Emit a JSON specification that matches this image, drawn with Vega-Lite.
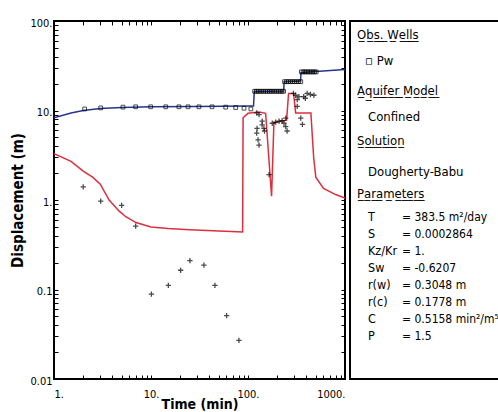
{
  "$schema": "https://vega.github.io/schema/vega-lite/v6.json",
  "background": "white",
  "padding": {"left": 9, "top": 16, "right": 0, "bottom": 0},
  "config": {
    "view": {"stroke": "black", "strokeWidth": 2},
    "font": "DejaVu Sans Condensed, Liberation Sans",
    "concat": {"spacing": 2},
    "axis": {"labelColor": "black", "titleColor": "black", "tickColor": "black", "grid": false, "domain": false, "labelFont": "DejaVu Sans Condensed, Liberation Sans", "titleFont": "DejaVu Sans Condensed, Liberation Sans"}
  },
  "datasets": {
    "model": [
      {"t": 1, "d": 8.3}, {"t": 1.5, "d": 9.4}, {"t": 2, "d": 10.0}, {"t": 3, "d": 10.5}, {"t": 5, "d": 10.8},
      {"t": 10, "d": 11.0}, {"t": 30, "d": 11.1}, {"t": 100, "d": 11.2}, {"t": 114, "d": 11.2}, {"t": 116, "d": 16.3},
      {"t": 233, "d": 16.5}, {"t": 236, "d": 21.0}, {"t": 348, "d": 21.3}, {"t": 352, "d": 26.5}, {"t": 500, "d": 27.2}, {"t": 1000, "d": 28.8}
    ],
    "deriv": [
      {"t": 1, "d": 3.3}, {"t": 1.5, "d": 2.7}, {"t": 2, "d": 2.1}, {"t": 2.5, "d": 1.8}, {"t": 3, "d": 1.5}, {"t": 3.7, "d": 1.0},
      {"t": 4.7, "d": 0.75}, {"t": 5.5, "d": 0.65}, {"t": 7, "d": 0.56}, {"t": 10, "d": 0.5}, {"t": 15, "d": 0.48}, {"t": 25, "d": 0.465},
      {"t": 50, "d": 0.45}, {"t": 88, "d": 0.44}, {"t": 89, "d": 8.3}, {"t": 100, "d": 9.3}, {"t": 130, "d": 9.6}, {"t": 152, "d": 9.3},
      {"t": 175, "d": 1.1}, {"t": 185, "d": 7.3}, {"t": 250, "d": 7.8}, {"t": 262, "d": 15.5}, {"t": 295, "d": 15.5}, {"t": 310, "d": 9.4},
      {"t": 445, "d": 9.4}, {"t": 475, "d": 3.0}, {"t": 500, "d": 1.8}, {"t": 600, "d": 1.35}, {"t": 800, "d": 1.15}, {"t": 1000, "d": 1.05}
    ],
    "obs": [
      {"t": 2.07, "d": 10.4}, {"t": 3.03, "d": 10.7}, {"t": 5.14, "d": 10.9}, {"t": 6.95, "d": 11}, {"t": 9.93, "d": 11}, {"t": 14.2, "d": 11},
      {"t": 19.4, "d": 11}, {"t": 24.1, "d": 11}, {"t": 31.2, "d": 11}, {"t": 42.6, "d": 11}, {"t": 58.9, "d": 10.9}, {"t": 74.7, "d": 10.8},
      {"t": 91, "d": 10.6}, {"t": 107, "d": 10.4},
      {"t": 117, "d": 16.4}, {"t": 122, "d": 16.4}, {"t": 127, "d": 16.4}, {"t": 133, "d": 16.4}, {"t": 139, "d": 16.4}, {"t": 145, "d": 16.4},
      {"t": 152, "d": 16.4}, {"t": 159, "d": 16.4}, {"t": 166, "d": 16.4}, {"t": 173, "d": 16.4}, {"t": 181, "d": 16.4}, {"t": 189, "d": 16.4},
      {"t": 197, "d": 16.4}, {"t": 206, "d": 16.4}, {"t": 215, "d": 16.4}, {"t": 224, "d": 16.4}, {"t": 233, "d": 16.4},
      {"t": 238, "d": 21}, {"t": 250, "d": 21}, {"t": 262, "d": 21}, {"t": 275, "d": 21}, {"t": 289, "d": 21}, {"t": 303, "d": 21},
      {"t": 318, "d": 21}, {"t": 334, "d": 21}, {"t": 350, "d": 21},
      {"t": 355, "d": 27}, {"t": 370, "d": 27}, {"t": 385, "d": 27}, {"t": 400, "d": 27}, {"t": 416, "d": 27}, {"t": 433, "d": 27},
      {"t": 450, "d": 27}, {"t": 468, "d": 27}, {"t": 487, "d": 27}, {"t": 505, "d": 27}
    ],
    "dobs": [
      {"t": 2.0, "d": 1.4}, {"t": 3.03, "d": 0.97}, {"t": 4.98, "d": 0.87}, {"t": 6.95, "d": 0.51}, {"t": 10.1, "d": 0.089},
      {"t": 15.1, "d": 0.111}, {"t": 20.2, "d": 0.164}, {"t": 25.2, "d": 0.21}, {"t": 35.1, "d": 0.187}, {"t": 45.6, "d": 0.111},
      {"t": 60.2, "d": 0.051}, {"t": 80.6, "d": 0.027},
      {"t": 123, "d": 9.4}, {"t": 130, "d": 9.0}, {"t": 140, "d": 7.6}, {"t": 140, "d": 6.9}, {"t": 124, "d": 6.3}, {"t": 146, "d": 6.3},
      {"t": 148, "d": 5.9}, {"t": 123, "d": 5.6}, {"t": 127, "d": 4.7}, {"t": 130, "d": 4.1}, {"t": 165, "d": 1.92},
      {"t": 178, "d": 7.2}, {"t": 193, "d": 7.4}, {"t": 209, "d": 7.6}, {"t": 225, "d": 7.7}, {"t": 235, "d": 7.2}, {"t": 245, "d": 6.6},
      {"t": 253, "d": 5.9}, {"t": 245, "d": 8.2},
      {"t": 294, "d": 15.5}, {"t": 310, "d": 14.8}, {"t": 322, "d": 13.2}, {"t": 322, "d": 11.1}, {"t": 350, "d": 8.2}, {"t": 364, "d": 7.0},
      {"t": 335, "d": 14.3}, {"t": 375, "d": 14.3}, {"t": 407, "d": 15.5}, {"t": 440, "d": 15.1}, {"t": 478, "d": 14.8}, {"t": 390, "d": 13.7}
    ],
    "info": [
      {"text": "O\u0332b\u0332s\u0332.\u0332 \u0332W\u0332e\u0332l\u0332l\u0332s\u0332", "line": 0.82, "indent": 0.7},
      {"text": "\u25ab Pw", "line": 2.35, "indent": 1.5},
      {"text": "A\u0332q\u0332u\u0332i\u0332f\u0332e\u0332r\u0332 \u0332M\u0332o\u0332d\u0332e\u0332l\u0332", "line": 4.1, "indent": 0.7},
      {"text": "Confined", "line": 5.63, "indent": 1.8},
      {"text": "S\u0332o\u0332l\u0332u\u0332t\u0332i\u0332o\u0332n\u0332", "line": 7.04, "indent": 0.7},
      {"text": "Dougherty-Babu", "line": 8.86, "indent": 1.8},
      {"text": "P\u0332a\u0332r\u0332a\u0332m\u0332e\u0332t\u0332e\u0332r\u0332s\u0332", "line": 10.15, "indent": 0.7}
    ],
    "params": [
      {"name": "T", "value": "= 383.5 m\u00b2/day", "line": 11.5},
      {"name": "S", "value": "= 0.0002864", "line": 12.5},
      {"name": "Kz/Kr", "value": "= 1.", "line": 13.5},
      {"name": "Sw", "value": "= -0.6207", "line": 14.5},
      {"name": "r(w)", "value": "= 0.3048 m", "line": 15.5},
      {"name": "r(c)", "value": "= 0.1778 m", "line": 16.5},
      {"name": "C", "value": "= 0.5158 min\u00b2/m\u2075", "line": 17.5},
      {"name": "P", "value": "= 1.5", "line": 18.5}
    ]
  },
  "hconcat": [
    {
      "width": 291,
      "height": 358,
      "layer": [
        {
          "data": {"name": "deriv"},
          "mark": {"type": "line", "color": "#dc2f3f", "strokeWidth": 1.5, "clip": true},
          "encoding": {
            "x": {"field": "t", "type": "quantitative", "sort": null,
              "scale": {"type": "log", "domain": [1, 1000], "nice": false},
              "axis": {"orient": "bottom", "values": [1,2,3,4,5,6,7,8,9,10,20,30,40,50,60,70,80,90,100,200,300,400,500,600,700,800,900,1000],
                "labelExpr": "datum.value == 1 ? '1.' : datum.value == 10 ? '10.' : datum.value == 100 ? '100.' : datum.value == 1000 ? '1000.' : ''",
                "tickSize": -4, "labelPadding": 13, "labelFlush": true, "labelOverlap": false, "labelFontSize": 11,
                "title": "Time (min)", "titleFontSize": 14, "titleFontWeight": "bold", "titlePadding": -2}},
            "y": {"field": "d", "type": "quantitative",
              "scale": {"type": "log", "domain": [0.01, 100], "nice": false},
              "axis": {"orient": "left", "values": [0.01,0.02,0.03,0.04,0.05,0.06,0.07,0.08,0.09,0.1,0.2,0.3,0.4,0.5,0.6,0.7,0.8,0.9,1,2,3,4,5,6,7,8,9,10,20,30,40,50,60,70,80,90,100],
                "labelExpr": "datum.value == 0.01 ? '0.01' : datum.value == 0.1 ? '0.1' : datum.value == 1 ? '1.' : datum.value == 10 ? '10.' : datum.value == 100 ? '100.' : ''",
                "tickSize": -4, "labelPadding": 6, "labelOverlap": false, "labelFontSize": 11, "labelOffset": 2,
                "title": "Displacement (m)", "titleFontSize": 15, "titleFontWeight": "bold", "titlePadding": 4}}
          }
        },
        {
          "data": {"name": "model"},
          "mark": {"type": "line", "color": "#26348c", "strokeWidth": 1.5, "clip": true},
          "encoding": {
            "x": {"field": "t", "type": "quantitative", "sort": null,
              "axis": {"orient": "top", "values": [1,2,3,4,5,6,7,8,9,10,20,30,40,50,60,70,80,90,100,200,300,400,500,600,700,800,900,1000], "labels": false, "tickSize": -4, "title": null}},
            "y": {"field": "d", "type": "quantitative",
              "axis": {"orient": "right", "values": [0.01,0.02,0.03,0.04,0.05,0.06,0.07,0.08,0.09,0.1,0.2,0.3,0.4,0.5,0.6,0.7,0.8,0.9,1,2,3,4,5,6,7,8,9,10,20,30,40,50,60,70,80,90,100], "labels": false, "tickSize": -4, "title": null}}
          }
        },
        {
          "data": {"name": "obs"},
          "mark": {"type": "point", "shape": "square", "filled": false, "color": "black", "size": 14, "strokeWidth": 1, "clip": true},
          "encoding": {
            "x": {"field": "t", "type": "quantitative", "axis": null},
            "y": {"field": "d", "type": "quantitative", "axis": null}
          }
        },
        {
          "data": {"name": "dobs"},
          "mark": {"type": "point", "shape": "M-1,0H1M0,-1V1", "filled": false, "color": "black", "size": 28, "strokeWidth": 1.3, "clip": true},
          "encoding": {
            "x": {"field": "t", "type": "quantitative", "axis": null},
            "y": {"field": "d", "type": "quantitative", "axis": null}
          }
        }
      ],
      "resolve": {"axis": {"x": "independent", "y": "independent"}}
    },
    {
      "width": 160,
      "height": 358,
      "layer": [
        {
          "data": {"name": "info"},
          "mark": {"type": "text", "align": "left", "baseline": "middle", "fontSize": 13, "color": "black"},
          "encoding": {
            "x": {"field": "indent", "type": "quantitative", "scale": {"domain": [0, 16]}, "axis": null},
            "y": {"field": "line", "type": "quantitative", "scale": {"domain": [0, 21], "reverse": true}, "axis": null},
            "text": {"field": "text"}
          }
        },
        {
          "data": {"name": "params"},
          "mark": {"type": "text", "align": "left", "baseline": "middle", "fontSize": 12.5, "color": "black"},
          "encoding": {
            "x": {"datum": 1.8, "type": "quantitative", "scale": {"domain": [0, 16]}, "axis": null},
            "y": {"field": "line", "type": "quantitative", "scale": {"domain": [0, 21], "reverse": true}, "axis": null},
            "text": {"field": "name"}
          }
        },
        {
          "data": {"name": "params"},
          "mark": {"type": "text", "align": "left", "baseline": "middle", "fontSize": 12, "color": "black"},
          "encoding": {
            "x": {"datum": 5.2, "type": "quantitative", "scale": {"domain": [0, 16]}, "axis": null},
            "y": {"field": "line", "type": "quantitative", "scale": {"domain": [0, 21], "reverse": true}, "axis": null},
            "text": {"field": "value"}
          }
        }
      ]
    }
  ]
}
